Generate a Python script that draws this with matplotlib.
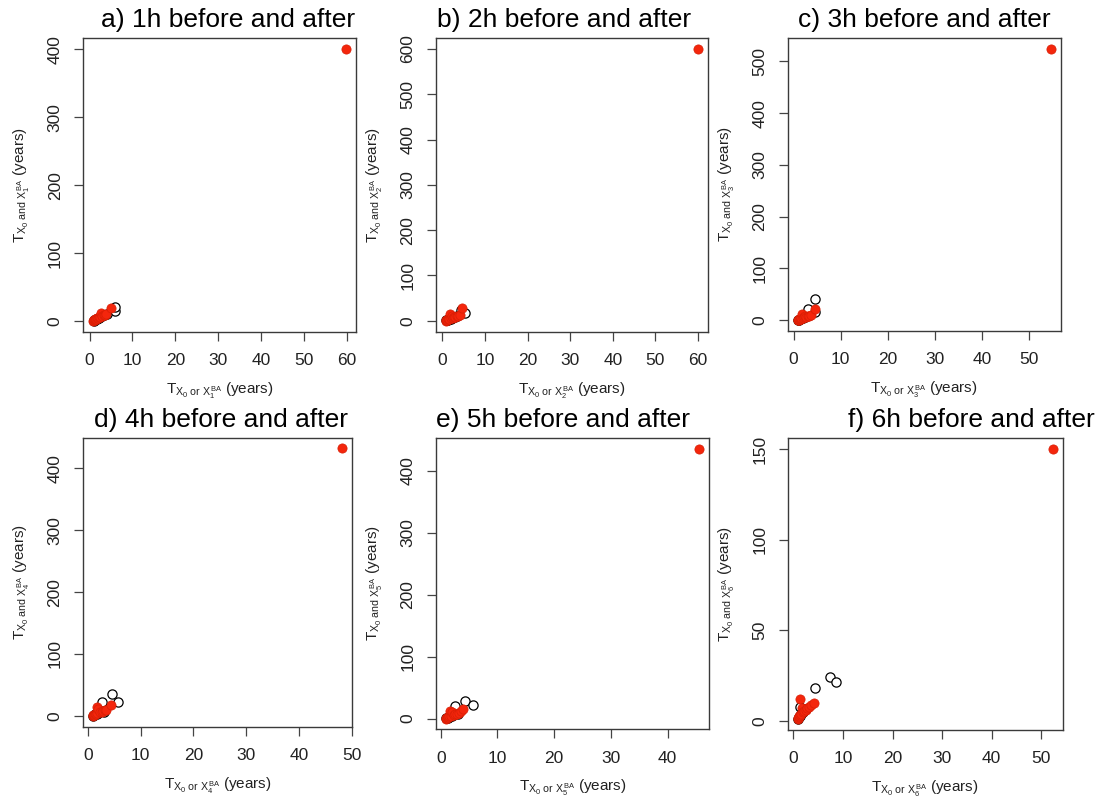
import matplotlib
matplotlib.use("Agg")
import matplotlib.pyplot as plt

plt.rcParams['font.family'] = ['Liberation Sans', 'DejaVu Sans']
plt.rcParams['mathtext.fontset'] = 'custom'
plt.rcParams['mathtext.rm'] = 'Liberation Sans'
plt.rcParams['mathtext.it'] = 'Liberation Sans'
plt.rcParams['mathtext.bf'] = 'Liberation Sans:bold'

# ---- data (open = X0, red = X^BA) ----
a_open_x = [1.0, 1.1, 1.3, 1.5, 1.8, 2.1, 2.5, 2.9, 3.4, 4.0, 5.9, 6.0]
a_open_y = [0.5, 1.2, 1.9, 2.6, 3.6, 4.6, 5.8, 6.9, 8.2, 9.6, 15.0, 21.0]
a_red_x = [0.9, 1.0, 1.1, 1.2, 1.3, 1.4, 1.6, 1.8, 2.0, 2.2, 2.5, 2.7, 3.0, 3.3, 3.6, 3.9, 4.9, 59.8]
a_red_y = [0.3, 0.8, 1.3, 1.8, 2.4, 3.0, 3.7, 4.4, 5.0, 5.8, 6.6, 12.5, 7.5, 8.4, 9.3, 10.8, 19.5, 401.0]

b_open_x = [1.0, 1.2, 1.4, 1.7, 2.0, 2.4, 2.9, 3.4, 4.3, 5.3]
b_open_y = [0.6, 1.5, 2.5, 3.6, 4.8, 6.2, 7.8, 9.5, 24.0, 17.5]
b_red_x = [0.9, 1.0, 1.1, 1.2, 1.4, 1.5, 1.7, 1.8, 2.0, 2.2, 2.5, 2.8, 3.1, 3.4, 3.7, 4.1, 4.7, 59.9]
b_red_y = [0.2, 0.7, 1.3, 2.0, 2.7, 3.4, 4.2, 15.0, 5.0, 11.0, 6.2, 7.3, 8.3, 9.4, 10.6, 12.5, 29.0, 601.0]

c_open_x = [1.0, 1.2, 1.4, 1.7, 2.0, 2.4, 3.0, 4.5, 4.5]
c_open_y = [0.5, 1.4, 2.4, 3.4, 4.6, 6.0, 21.5, 41.0, 15.0]
c_red_x = [0.9, 1.0, 1.1, 1.2, 1.3, 1.5, 1.6, 1.8, 2.0, 2.2, 2.4, 2.7, 3.0, 3.3, 3.7, 4.5, 54.5]
c_red_y = [0.2, 0.7, 1.2, 1.9, 2.5, 3.2, 3.9, 12.0, 5.0, 5.8, 9.0, 7.0, 8.0, 9.0, 10.5, 21.5, 525.0]

d_open_x = [1.0, 1.2, 1.4, 1.7, 2.0, 2.6, 3.0, 4.5, 5.7]
d_open_y = [0.5, 1.5, 2.5, 3.5, 4.8, 22.0, 7.0, 35.0, 22.0]
d_red_x = [0.9, 1.0, 1.1, 1.2, 1.3, 1.5, 1.7, 1.8, 2.0, 2.3, 2.6, 2.9, 3.2, 3.5, 4.3, 48.2]
d_red_y = [0.2, 0.8, 1.4, 2.0, 2.7, 3.5, 14.0, 4.5, 11.0, 5.8, 6.8, 7.8, 8.8, 10.0, 18.0, 432.0]

e_open_x = [1.0, 1.2, 1.4, 1.7, 2.0, 2.5, 3.0, 4.2, 5.7]
e_open_y = [0.5, 1.5, 2.5, 3.5, 4.8, 21.0, 7.0, 28.0, 22.0]
e_red_x = [0.9, 1.0, 1.1, 1.2, 1.3, 1.5, 1.6, 1.8, 2.0, 2.3, 2.6, 2.9, 3.2, 3.5, 3.9, 45.5]
e_red_y = [0.2, 0.8, 1.4, 2.0, 2.7, 3.5, 13.0, 4.5, 10.0, 5.8, 6.8, 8.0, 9.5, 11.5, 15.0, 436.0]

f_open_x = [1.0, 1.1, 1.3, 1.4, 1.6, 2.0, 2.5, 4.4, 7.3, 8.5]
f_open_y = [1.2, 2.0, 3.0, 8.0, 4.0, 5.0, 6.5, 18.0, 24.5, 21.5]
f_red_x = [0.9, 1.0, 1.1, 1.2, 1.3, 1.4, 1.5, 1.7, 1.9, 2.2, 2.5, 2.8, 3.1, 3.5, 4.2, 52.3]
f_red_y = [1.0, 1.5, 2.0, 2.6, 3.2, 12.3, 3.8, 7.0, 5.0, 5.6, 6.3, 7.0, 7.8, 8.6, 10.0, 150.5]

titles = ["a) 1h before and after", "b) 2h before and after", "c) 3h before and after",
          "d) 4h before and after", "e) 5h before and after", "f) 6h before and after"]
lags = [1, 2, 3, 4, 5, 6]
x_ticks = [range(0, 61, 10), range(0, 61, 10), range(0, 51, 10),
           range(0, 51, 10), range(0, 41, 10), range(0, 51, 10)]
y_ticks = [range(0, 401, 100), range(0, 601, 100), range(0, 501, 100),
           range(0, 401, 100), range(0, 401, 100), range(0, 151, 50)]

panels = [
    (a_open_x, a_open_y, a_red_x, a_red_y),
    (b_open_x, b_open_y, b_red_x, b_red_y),
    (c_open_x, c_open_y, c_red_x, c_red_y),
    (d_open_x, d_open_y, d_red_x, d_red_y),
    (e_open_x, e_open_y, e_red_x, e_red_y),
    (f_open_x, f_open_y, f_red_x, f_red_y),
]

# box edges in pixels: left, right, top, bottom
boxes = [(83.3, 356, 37.7, 331.7), (436, 707.7, 37.7, 331.5), (787.7, 1060.7, 37.7, 331),
         (82.7, 352.3, 437.7, 726.5), (435.7, 709, 437.7, 729.3), (787.7, 1062.7, 437.7, 730)]
title_cx = [228, 564, 924, 221, 563, 971]

W, H = 1104, 802
fig = plt.figure(figsize=(W / 100, H / 100), dpi=100)

RED = '#F4260C'


def rlim(vals):
    # R style axis range: data range plus 4% each side
    lo, hi = min(vals), max(vals)
    pad = 0.04 * (hi - lo)
    return lo - pad, hi + pad


for i, (ox, oy, rx, ry) in enumerate(panels):
    l, r, t, b = boxes[i]
    ax = fig.add_axes([l / W, 1 - b / H, (r - l) / W, (b - t) / H])
    ax.scatter(ox, oy, s=44, facecolor='white', edgecolor='black', linewidth=0.9, zorder=2)
    ax.scatter(rx, ry, s=44, facecolor=RED, edgecolor='#D81E05', linewidth=0.5, zorder=3)
    ax.set_xlim(rlim(ox + rx))
    ax.set_ylim(rlim(oy + ry))
    ax.set_xticks(list(x_ticks[i]))
    ax.set_yticks(list(y_ticks[i]))
    for s in ax.spines.values():
        s.set_color('#3a3a3a')
        s.set_linewidth(1.0)
    ax.tick_params(direction='out', length=6.8, width=0.9, color='#444444',
                   labelsize=12.5, labelcolor='#222222')
    ax.tick_params(axis='x', pad=8.5)
    ax.tick_params(axis='y', pad=8, labelrotation=90)
    for lab in ax.get_yticklabels():
        lab.set_va('center')

    k = lags[i]
    fig.text((l + r) / 2 / W, 1 - (b + 62) / H,
             r"T$_{X_0\ \mathrm{or}\ X_{%d}^{BA}}$ (years)" % k,
             ha='center', va='baseline', fontsize=11, color='#222222')
    fig.text((l - 58) / W, 1 - (t + b) / 2 / H,
             r"T$_{X_0\ \mathrm{and}\ X_{%d}^{BA}}$ (years)" % k,
             ha='center', va='baseline', rotation=90, rotation_mode='anchor',
             fontsize=11, color='#222222')
    fig.text(title_cx[i] / W, 1 - (t - 11) / H, titles[i],
             ha='center', va='baseline', fontsize=19, color='black')

fig.savefig("out.png", dpi=100)
